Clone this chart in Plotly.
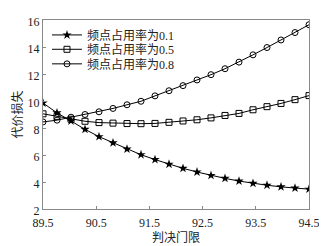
import plotly.graph_objects as go

x_vals = [89.5 + i * 5 / 19 for i in range(20)]
p01 = [9.85, 9.12, 8.52, 7.9, 7.36, 6.9, 6.44, 6.02, 5.66, 5.32, 5.01, 4.74, 4.49, 4.27, 4.07, 3.9, 3.76, 3.64, 3.55, 3.47]
p05 = [9.05, 8.86, 8.65, 8.5, 8.4, 8.36, 8.33, 8.32, 8.34, 8.42, 8.52, 8.61, 8.75, 8.93, 9.08, 9.35, 9.58, 9.82, 10.1, 10.4]
p08 = [8.45, 8.58, 8.8, 9.0, 9.2, 9.45, 9.72, 9.98, 10.38, 10.76, 11.14, 11.56, 11.95, 12.39, 12.88, 13.42, 13.96, 14.52, 15.07, 15.65]
names = ["频点占用率为0.1", "频点占用率为0.5", "频点占用率为0.8"]
x_ticks = [89.5, 90.5, 91.5, 92.5, 93.5, 94.5]
y_ticks = [2, 4, 6, 8, 10, 12, 14, 16]

FONT = "'Liberation Serif', 'Times New Roman', 'Noto Sans CJK SC', serif"

fig = go.Figure()
fig.add_trace(go.Scatter(x=x_vals, y=p01, name=names[0], mode="lines+markers", legend="legend",
                         line=dict(color="black", width=1),
                         marker=dict(symbol="star", size=7, color="black")))
fig.add_trace(go.Scatter(x=x_vals, y=p05, name=names[1], mode="lines+markers", legend="legend2",
                         line=dict(color="black", width=1),
                         marker=dict(symbol="square-open", size=6, color="black", line=dict(width=1))))
fig.add_trace(go.Scatter(x=x_vals, y=p08, name=names[2], mode="lines+markers", legend="legend3",
                         line=dict(color="black", width=1),
                         marker=dict(symbol="circle-open", size=6, color="black", line=dict(width=1))))

leg = dict(x=0.015, xanchor="left", yanchor="middle", bgcolor="rgba(0,0,0,0)",
           borderwidth=0, font=dict(size=12), itemwidth=30)
fig.update_layout(
    width=319, height=238,
    margin=dict(l=35, r=15, t=7, b=33),
    paper_bgcolor="white", plot_bgcolor="white",
    font=dict(family=FONT, size=12, color="#222"),
    showlegend=True,
    legend=dict(leg, y=0.921),
    legend2=dict(leg, y=0.845),
    legend3=dict(leg, y=0.768),
)
fig.update_xaxes(range=[89.5, 94.5], tickvals=x_ticks, ticktext=[str(v) for v in x_ticks],
                 showgrid=False, zeroline=False, showline=True, mirror=True,
                 linecolor="#888", linewidth=1, ticks="inside", ticklen=3, tickcolor="#888",
                 ticklabelstandoff=3,
                 title=dict(text="判决门限", standoff=0, font=dict(size=12)))
fig.update_yaxes(range=[2, 16], tickvals=y_ticks,
                 showgrid=False, zeroline=False, showline=True, mirror=True,
                 linecolor="#888", linewidth=1, ticks="inside", ticklen=3, tickcolor="#888",
                 ticklabelshift=2,
                 title=dict(text="代价损失", standoff=2, font=dict(size=12)))

fig.write_html("out.html")
